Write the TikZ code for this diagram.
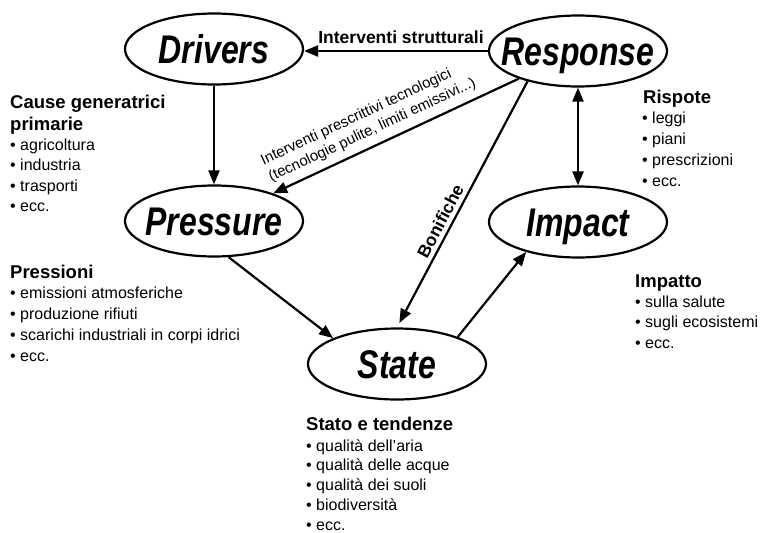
\documentclass[tikz,border=0pt]{standalone}
\usepackage{fontspec}
\setmainfont{Liberation Sans}
\usetikzlibrary{arrows.meta,shapes.geometric}

\newcommand{\stagetxt}[1]{\makebox[0pt]{\smash{\raisebox{-14.5pt}{\scalebox{.8}[1]{#1}}}}}
\newcommand{\bul}{\textbullet\ }

\begin{document}
\begin{tikzpicture}[x=1pt, y=-1pt,
  stage/.style={ellipse, draw, line width=2.2pt, minimum width=178pt,
    minimum height=71pt, inner sep=0pt,
    font=\fontsize{40}{40}\selectfont\bfseries\itshape},
  link/.style={line width=2.2pt, -{Triangle[length=14pt, width=11pt]}},
  dlink/.style={line width=2.2pt,
    {Triangle[length=14pt, width=11pt]}-{Triangle[length=14pt, width=11pt]}},
  lbl/.style={inner sep=0pt, font=\fontsize{17.5}{17.5}\selectfont\bfseries},
  head/.style={anchor=base west, inner sep=0pt,
    font=\fontsize{18.5}{18.5}\selectfont\bfseries},
  entry/.style={anchor=base west, inner sep=0pt,
    font=\fontsize{16}{16}\selectfont}]

\useasboundingbox (0,0) rectangle (761,533);

\node[stage] (Drivers)  at (214,49)  {\stagetxt{Drivers}};
\node[stage] (Response) at (578,51)  {\stagetxt{Response}};
\node[stage] (Pressure) at (214,221) {\stagetxt{Pressure}};
\node[stage] (Impact)   at (578,222) {\stagetxt{Impact}};
\node[stage] (State)    at (397,364) {\stagetxt{State}};

\draw[link] (Response.west) -- (Drivers.east |- Response.west)
  node[lbl, midway, above=6pt, xshift=5pt] (strutt) {Interventi strutturali};
\draw[link] (Drivers) -- (Pressure);
\draw[link] (Response) -- (Pressure)
  node[pos=.57, sloped, above=7pt, inner sep=0pt, align=left,
    font=\fontsize{15}{18.5}\selectfont] (prescr)
  {Interventi prescrittivi tecnologici\\(tecnologie pulite, limiti emissivi...)};
\draw[link, shorten >=5pt] (Response.211) -- (State.north)
  node[lbl, pos=.59, sloped, above=4pt] (bonif) {Bonifiche};
\draw[link] (Pressure.-68) -- (State.158);
\draw[link] (State.24) -- (Impact.210);
\draw[dlink] (Response) -- (Impact);

\node[head] (causeA) at (10,108) {Cause generatrici};
\node[head] (causeB) at (10,130) {primarie};
\foreach \txt [count=\i] in {agricoltura, industria, trasporti, ecc.}
  \node[entry] (cause\i) at (10,129.5+20.5*\i) {\bul\txt};

\node[head] (press) at (10,278) {Pressioni};
\foreach \txt [count=\i] in {emissioni atmosferiche, produzione rifiuti,
    scarichi industriali in corpi idrici, ecc.}
  \node[entry] (press\i) at (10,277+21*\i) {\bul\txt};

\node[head] (risp) at (643,103) {Rispote};
\foreach \txt [count=\i] in {leggi, piani, prescrizioni, ecc.}
  \node[entry] (risp\i) at (642,102+21*\i) {\bul\txt};

\node[head] (imp) at (635,287) {Impatto};
\foreach \txt [count=\i] in {sulla salute, sugli ecosistemi, ecc.}
  \node[entry] (imp\i) at (635,286.5+20.5*\i) {\bul\txt};

\node[head] (stato) at (306,430) {Stato e tendenze};
\foreach \txt [count=\i] in {qualità dell’aria, qualità delle acque,
    qualità dei suoli, biodiversità, ecc.}
  \node[entry] (stato\i) at (306,431.2+19.8*\i) {\bul\txt};

\end{tikzpicture}
\end{document}
